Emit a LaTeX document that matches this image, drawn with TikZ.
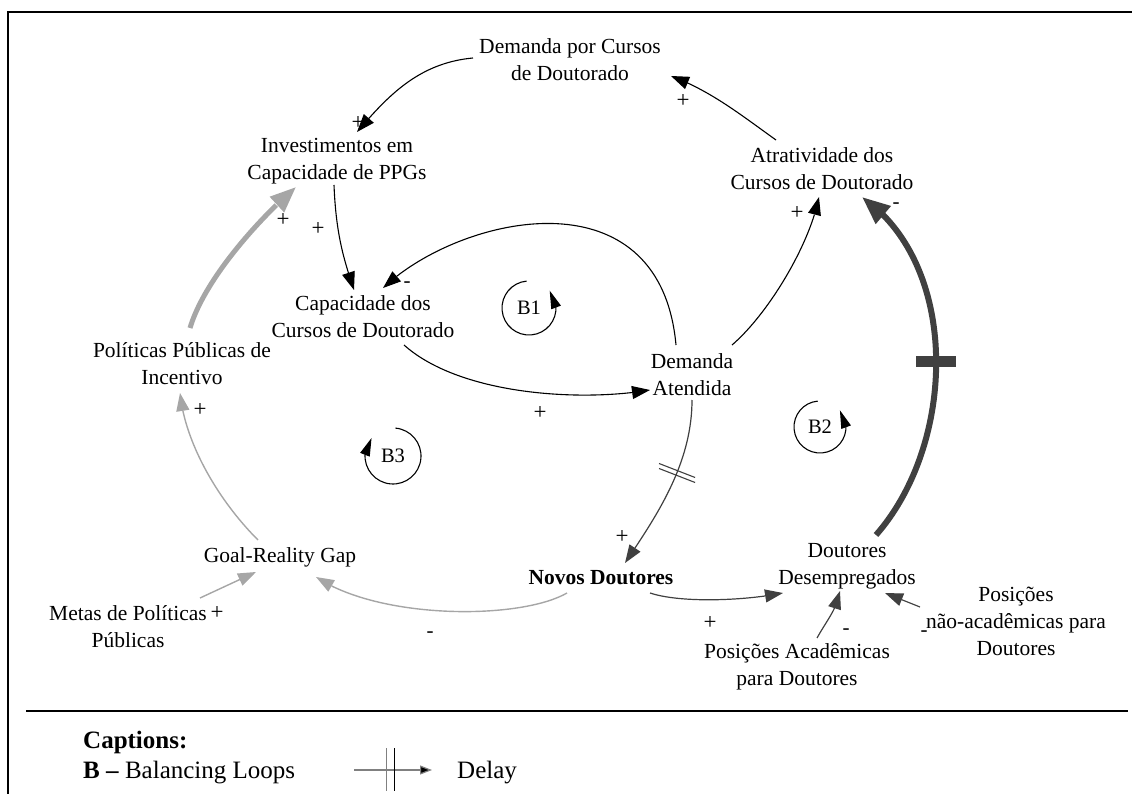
\documentclass[tikz,border=0pt]{standalone}
\usepackage{fontspec}
\setmainfont{Liberation Serif}
\usetikzlibrary{arrows.meta,calc,bending}
\definecolor{dg}{HTML}{404040}
\definecolor{lg}{HTML}{A6A6A6}
\begin{document}
\begin{tikzpicture}[x=1pt,y=-1pt,
  var/.style={align=center, inner sep=0pt, font=\fontsize{21.5}{27}\selectfont},
  sgn/.style={inner sep=0pt, font=\fontsize{23}{26}\selectfont},
  sgm/.style={inner sep=0pt, font=\fontsize{21}{24}\selectfont},
  capt/.style={inner sep=0pt, font=\fontsize{25}{30}\selectfont},
  lnk/.style={line width=1.1pt, -{Triangle[length=18pt,width=13pt]}},
  lnkd/.style={line width=1.2pt, draw=dg, -{Triangle[length=18pt,width=13pt]}},
  lnkl/.style={line width=1.4pt, draw=lg, -{Triangle[length=18pt,width=13pt]}},
  thickl/.style={line width=5pt, draw=lg, -{Triangle[length=26pt,width=20pt]}},
  thickd/.style={line width=6pt, draw=dg, -{Triangle[length=28pt,width=22pt]}},
  loopst/.style={line width=1.1pt, -{Triangle[length=18pt,width=10pt,flex=1]}},
]
\useasboundingbox (0,0) rectangle (1132,794);
% frame
\draw[line width=2pt] (8,794) -- (8,12) -- (1132,12);
\draw[line width=1.5pt] (26,711) -- (1128,711);

% variables
\node[var] (dpc) at (570,60) {Demanda por Cursos\\de Doutorado};
\node[var] (inv) at (337,161) {Investimentos em\\Capacidade de PPGs};
\node[var] (cap) at (363,317) {Capacidade dos\\Cursos de Doutorado};
\node[var] (pol) at (182,364) {Políticas Públicas de\\Incentivo};
\node[var] (atr) at (822,169) {Atratividade dos\\Cursos de Doutorado};
\node[var] (da) at (692,375) {Demanda\\Atendida};
\node[var] (grg) at (280,557) {Goal-Reality Gap};
\node[var] (metas) at (128,627) {Metas de Políticas\\Públicas};
\node[var, font=\fontsize{21.5}{27}\selectfont\bfseries] (nd) at (601,578) {Novos Doutores};
\node[var] (dd) at (847,566) {Doutores\\Desempregados};
\node[var] (pna) at (1016,621) {Posições\\não-acadêmicas para\\Doutores};
\node[var] (pa) at (797,667) {Posições Acadêmicas\\para Doutores};

% loop labels
\node[var, font=\fontsize{20.5}{24}\selectfont] (b1) at (529,308) {B1};
\node[var, font=\fontsize{20.5}{24}\selectfont] (b2) at (820,427) {B2};
\node[var, font=\fontsize{20.5}{24}\selectfont] (b3) at (393,456) {B3};
\draw[loopst] ($(b1)+(-95:27)$) arc[start angle=-95, end angle=-400, radius=27];
\draw[loopst] ($(b2)+(-95:26)$) arc[start angle=-95, end angle=-400, radius=26];
\draw[loopst] ($(b3)+(-85:28)$) arc[start angle=-85, end angle=220, radius=28];

% black links
\draw[lnk] ($(dpc)+(-97,-2)$) .. controls +(-55,5) and +(30,-35) .. ($(inv)+(20,-29)$);
\draw[lnk] ($(atr)+(-46,-29)$) .. controls +(-35,-25) and +(40,15) .. ($(dpc)+(101,16)$);
\draw[lnk] ($(inv)+(-3,24)$) .. controls +(2,50) and +(-10,-30) .. ($(cap)+(-9,-27)$);
\draw[lnk] ($(da)+(-16,-30)$) .. controls +(-16,-175) and +(77,-73) .. ($(cap)+(20,-29)$);
\draw[lnk] ($(cap)+(41,28)$) .. controls +(56,50) and +(-70,12) .. ($(da)+(-42,15)$);
\draw[lnk] ($(da)+(40,-30)$) .. controls +(35,-30) and +(-10,50) .. ($(atr)+(-3,28)$);

% gray links
\draw[thickl] ($(pol)+(8,-36)$) .. controls +(15,-50) and +(-35,30) .. ($(inv)+(-41,26)$);
\draw[thickd] ($(dd)+(29,-31)$) .. controls +(80,-91) and +(99,69) .. ($(atr)+(40,28)$)
  node[pos=0.49, fill=dg, minimum width=40pt, minimum height=11pt, inner sep=0pt] (dbar) {};
\draw[lnkd] ($(da)+(0,25)$) .. controls +(0,65) and +(30,-45) .. ($(nd)+(24,-15)$)
  coordinate[pos=0.4] (dm);
\draw[line width=1.1pt, dg] ($(dm)+(-18,-9)$) -- ($(dm)+(18,5)$);
\draw[line width=1.1pt, dg] ($(dm)+(-18,-4)$) -- ($(dm)+(18,10)$);
\draw[lnkd] ($(nd)+(49,15)$) .. controls +(30,10) and +(-40,8) .. ($(dd)+(-64,27)$);
\draw[lnkd] ($(pa)+(20,-29)$) .. controls +(10,-18) and +(-3,18) .. ($(dd)+(-7,25)$);
\draw[lnkd] ($(pna)+(-96,-14)$) -- ($(dd)+(38,27)$);
\draw[lnkl] ($(nd)+(-34,15)$) .. controls +(-47,27) and +(64,43) .. ($(grg)+(36,20)$);
\draw[lnkl] ($(metas)+(72,-29)$) -- ($(grg)+(-24,15)$);
\draw[lnkl] ($(grg)+(-22,-17)$) .. controls +(-40,-40) and +(5,50) .. ($(pol)+(-2,29)$);

% polarity signs
\node[sgn] (s1) at (358,123) {+};
\node[sgn] (s2) at (683,101) {+};
\node[sgn] (s3) at (318,229) {+};
\node[sgn] (s4) at (283,220) {+};
\node[sgm] (s5) at (407,285) {-};
\node[sgn] (s6) at (540,413) {+};
\node[sgn] (s7) at (797,213) {+};
\node[sgm] (s8) at (896,206) {-};
\node[sgn] (s9) at (622,537) {+};
\node[sgn] (s10) at (710,623) {+};
\node[sgm] (s11) at (846,632) {-};
\node[sgm] (s12) at (924,634) {-};
\node[sgm] (s13) at (430,635) {-};
\node[sgn] (s14) at (217,613) {+};
\node[sgn] (s15) at (200,410) {+};

% captions
\node[capt, anchor=base west] (ct) at (83,748) {\textbf{Captions:}};
\node[capt, anchor=base west] (bl) at (83,778) {\textbf{B –} Balancing Loops};
\coordinate (lg1) at (354,770);
\coordinate (lg2) at (432,770);
\draw[line width=1.2pt, draw=gray, -{Triangle[length=12pt,width=9pt,fill=black]}] (lg1) -- (lg2);
\draw[line width=1pt, gray] (386,748) -- (386,791);
\draw[line width=1pt] (394,748) -- (394,791);
\node[capt, anchor=base west] (dl) at (457,778) {Delay};
\end{tikzpicture}
\end{document}
